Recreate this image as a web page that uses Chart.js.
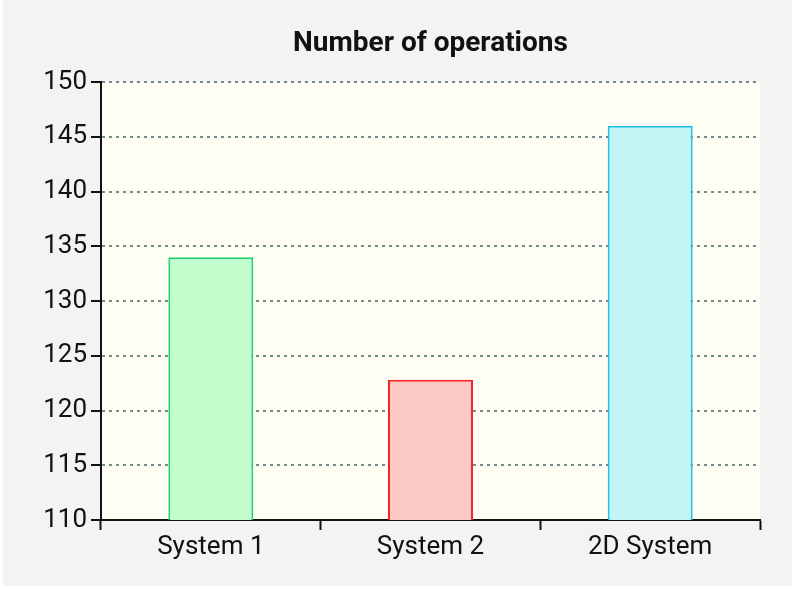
<!DOCTYPE html>
<html>
<head>
<meta charset="utf-8">
<script src="https://cdn.jsdelivr.net/npm/chart.js@4/dist/chart.umd.min.js"></script>
<style>
  html, body { margin: 0; padding: 0; background: #ffffff; }
  #wrap { width: 800px; height: 589px; position: relative; }
</style>
</head>
<body>
<div id="wrap"><canvas id="c" width="800" height="589"></canvas></div>
<script>
const categories = ["System 1", "System 2", "2D System"];
const operations = [134, 122.8, 146];
const fillColors = ["#c2fdcd", "#fdc9c4", "#c4f4f3"];
const borderColors = ["#22d36f", "#f4252a", "#20c0ea"];
const yMin = 110, yMax = 150, yStep = 5;
const chartTitle = "Number of operations";

const FONT = "Roboto";

const backgroundPlugin = {
  id: 'bg',
  beforeDraw(chart) {
    const ctx = chart.ctx;
    const a = chart.chartArea;
    ctx.save();
    ctx.fillStyle = '#ffffff';
    ctx.fillRect(0, 0, chart.width, chart.height);
    ctx.fillStyle = '#f4f3f1';
    ctx.fillRect(3, 0, 789, 586);
    ctx.fillStyle = '#fefef5';
    ctx.fillRect(a.left, a.top, a.right - a.left, a.bottom - a.top);
    ctx.restore();
  },
  afterDraw(chart) {
    const ctx = chart.ctx;
    const a = chart.chartArea;
    ctx.save();
    ctx.fillStyle = '#111111';
    ctx.font = 'bold 28px ' + FONT;
    ctx.textAlign = 'center';
    ctx.textBaseline = 'alphabetic';
    ctx.fillText(chartTitle, (a.left + a.right) / 2, 51);
    ctx.restore();
  }
};

new Chart(document.getElementById('c'), {
  type: 'bar',
  data: {
    labels: categories,
    datasets: [{
      data: operations,
      backgroundColor: fillColors,
      borderColor: borderColors,
      borderWidth: 2,
      borderSkipped: 'bottom',
      categoryPercentage: 1,
      barPercentage: 0.387
    }]
  },
  options: {
    responsive: false,
    animation: false,
    devicePixelRatio: 1,
    layout: { padding: { left: 0, right: 40, top: 82, bottom: 19 } },
    plugins: {
      legend: { display: false },
      tooltip: { enabled: false },
      title: { display: false }
    },
    scales: {
      x: {
        offset: true,
        grid: {
          offset: true,
          drawOnChartArea: false,
          drawTicks: true,
          tickLength: 10,
          tickWidth: 2,
          tickColor: '#111111',
          color: '#111111'
        },
        border: { display: true, color: '#111111', width: 2 },
        ticks: {
          color: '#111111',
          padding: 2,
          font: { family: FONT, size: 26 }
        },
        afterFit(scale) { scale.height = 50; }
      },
      y: {
        min: yMin,
        max: yMax,
        grid: {
          color: '#748b8b',
          lineWidth: 2,
          drawTicks: true,
          tickLength: 10,
          tickWidth: 2,
          tickColor: '#111111',
          tickBorderDash: []
        },
        border: { display: true, color: '#111111', width: 2, dash: [3, 4] },
        ticks: {
          stepSize: yStep,
          color: '#111111',
          padding: 4,
          font: { family: FONT, size: 26 }
        },
        afterFit(scale) { scale.width = 101; }
      }
    }
  },
  plugins: [backgroundPlugin]
});
</script>
</body>
</html>
